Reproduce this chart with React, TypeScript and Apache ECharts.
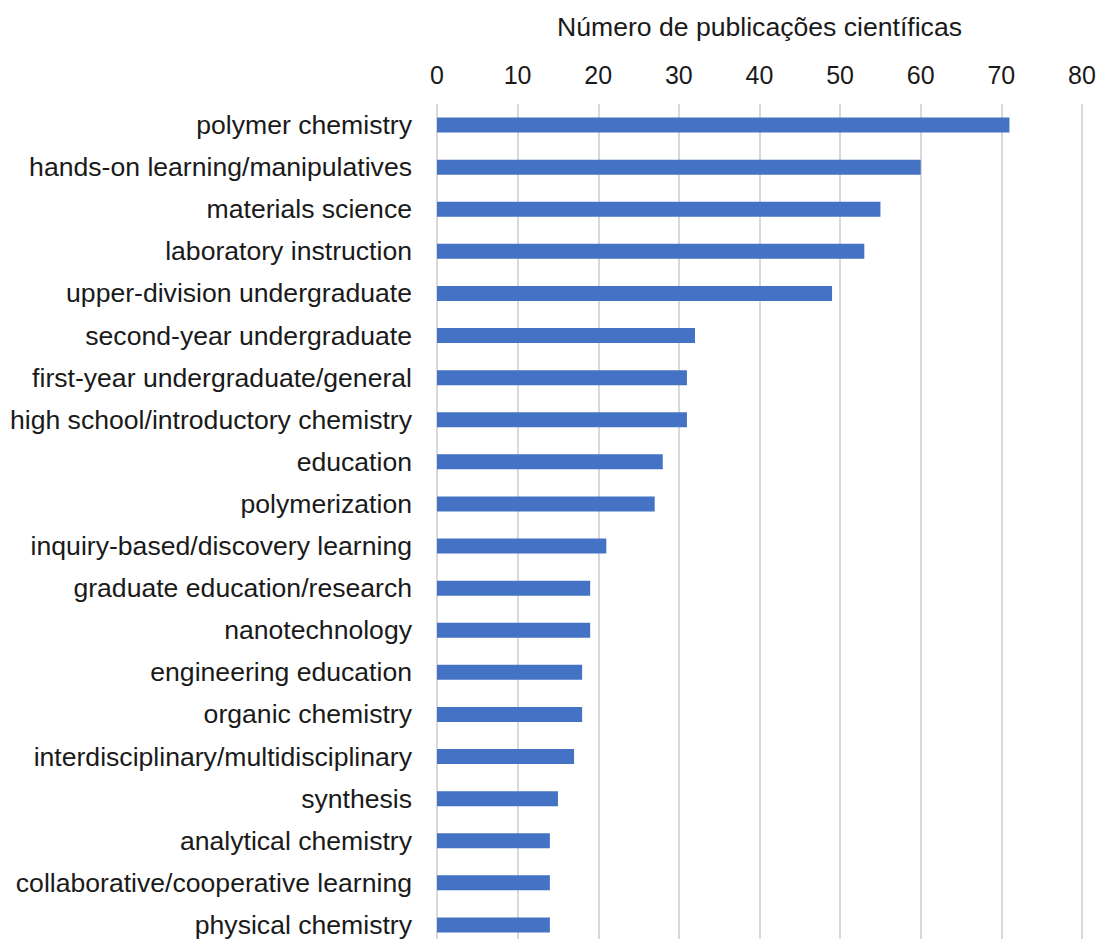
import React, { useEffect, useRef } from "react";
import * as echarts from "echarts";

const categories = [
  "polymer chemistry",
  "hands-on learning/manipulatives",
  "materials science",
  "laboratory instruction",
  "upper-division undergraduate",
  "second-year undergraduate",
  "first-year undergraduate/general",
  "high school/introductory chemistry",
  "education",
  "polymerization",
  "inquiry-based/discovery learning",
  "graduate education/research",
  "nanotechnology",
  "engineering education",
  "organic chemistry",
  "interdisciplinary/multidisciplinary",
  "synthesis",
  "analytical chemistry",
  "collaborative/cooperative learning",
  "physical chemistry",
];

const publications = [71, 60, 55, 53, 49, 32, 31, 31, 28, 27, 21, 19, 19, 18, 18, 17, 15, 14, 14, 14];

const axisTitle = "Número de publicações científicas";

export default function App() {
  const ref = useRef<HTMLDivElement>(null);
  useEffect(() => {
    if (!ref.current) return;
    const chart = echarts.init(ref.current, null, { renderer: "svg" });
    const font = "'Liberation Sans', Arial, sans-serif";
    chart.setOption({
      animation: false,
      backgroundColor: "#ffffff",
      grid: { left: 437, width: 645, top: 104, height: 842, containLabel: false },
      xAxis: {
        type: "value",
        position: "top",
        min: 0,
        max: 80,
        interval: 10,
        name: axisTitle,
        nameLocation: "middle",
        nameGap: 64,
        nameTextStyle: { fontSize: 26.6, color: "#1a1a1a", fontFamily: font },
        axisLine: { show: false },
        axisTick: { show: false },
        axisLabel: { fontSize: 25, color: "#1a1a1a", fontFamily: font, margin: 17 },
        splitLine: { show: true, lineStyle: { color: "#d9d9d9", width: 2 } },
      },
      yAxis: {
        type: "category",
        data: categories,
        inverse: true,
        axisLine: { show: false },
        axisTick: { show: false },
        axisLabel: { fontSize: 26.6, color: "#1a1a1a", fontFamily: font, margin: 25 },
        splitLine: { show: false },
      },
      series: [
        {
          type: "bar",
          data: publications,
          barWidth: 15,
          itemStyle: { color: "#4472C4" },
        },
      ],
    });
    return () => chart.dispose();
  }, []);
  return (
    <div style={{ position: "absolute", left: 0, top: 0, width: 1099, height: 939, overflow: "hidden" }}>
      <div ref={ref} style={{ width: 1099, height: 970 }} />
    </div>
  );
}
